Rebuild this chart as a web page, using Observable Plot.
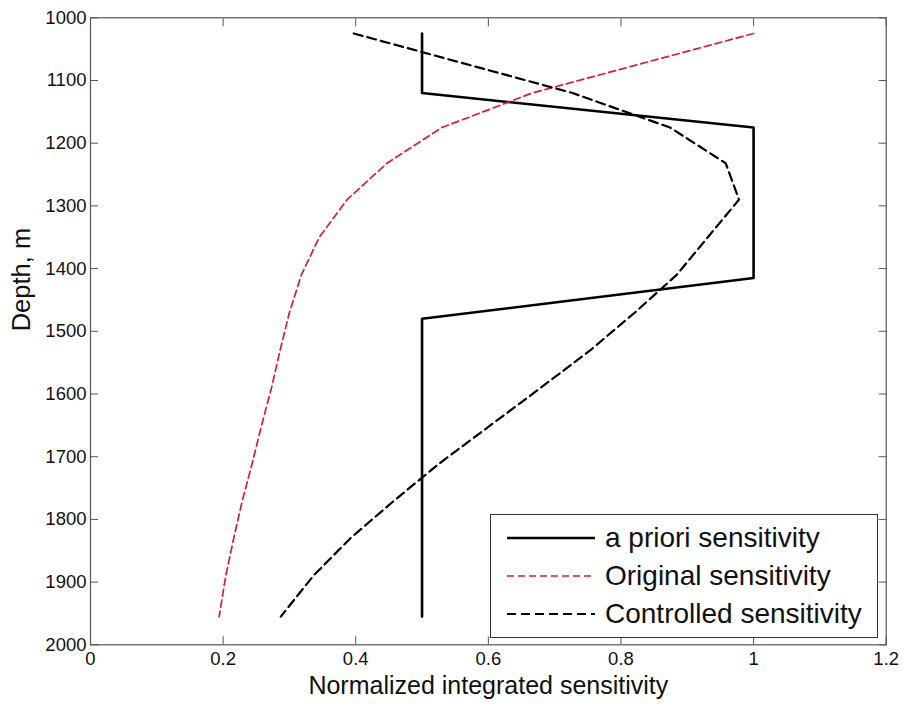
<!DOCTYPE html>
<html>
<head>
<meta charset="utf-8">
<script src="https://cdn.jsdelivr.net/npm/d3@7"></script>
<script src="https://cdn.jsdelivr.net/npm/@observablehq/plot@0.6"></script>
<style>
  body { margin: 0; background: #fff; font-family: "Liberation Sans", Arial, sans-serif; }
  #wrap { position: relative; width: 904px; height: 704px; }
  .legend {
    position: absolute; left: 490px; top: 514px; width: 386px; height: 118px;
    padding-top: 4px; border: 1.5px solid #333; background: #fff;
  }
  .row { display: flex; align-items: center; height: 38px; }
  .row svg { margin-left: 16px; margin-right: 10px; flex: none; }
  .row span { font-size: 28px; color: #111; white-space: nowrap; }
</style>
</head>
<body>
<div id="wrap"></div>
<script>
// A priori sensitivity: stepped profile (depth in m, normalized value)
const aprioriDepth = [1025, 1120, 1175, 1415, 1480, 1955];
const aprioriValue = [0.5, 0.5, 1.0, 1.0, 0.5, 0.5];

// Original and controlled sensitivity profiles, sampled at the same depths
const profileDepth = [1025, 1120, 1175, 1232, 1290, 1350, 1410, 1470, 1530, 1590, 1650, 1710, 1770, 1830, 1890, 1955];
const originalValue = [1.0, 0.666, 0.53, 0.447, 0.387, 0.345, 0.318, 0.300, 0.286, 0.273, 0.258, 0.244, 0.229, 0.216, 0.204, 0.194];
const controlledValue = [0.397, 0.727, 0.874, 0.958, 0.978, 0.931, 0.884, 0.821, 0.754, 0.679, 0.603, 0.527, 0.458, 0.392, 0.336, 0.287];

// Axis ticks and their labels
const xTicks = [0, 0.2, 0.4, 0.6, 0.8, 1, 1.2];
const xTickLabels = ["0", "0.2", "0.4", "0.6", "0.8", "1", "1.2"];
const yTicks = [1000, 1100, 1200, 1300, 1400, 1500, 1600, 1700, 1800, 1900, 2000];
const yTickLabels = ["1000", "1100", "1200", "1300", "1400", "1500", "1600", "1700", "1800", "1900", "2000"];

const xLabel = "Normalized integrated sensitivity";
const yLabel = "Depth, m";

// Series names and styles (also used by the legend)
const seriesNames = ["a priori sensitivity", "Original sensitivity", "Controlled sensitivity"];
const seriesStyles = [
  { stroke: "#000000", strokeWidth: 2.6, dash: null },
  { stroke: "#d81e36", strokeWidth: 1.7, dash: "7,4" },
  { stroke: "#000000", strokeWidth: 2.2, dash: "9,5" }
];

const apriori = aprioriDepth.map((d, i) => ({ depth: d, value: aprioriValue[i] }));
const original = profileDepth.map((d, i) => ({ depth: d, value: originalValue[i] }));
const controlled = profileDepth.map((d, i) => ({ depth: d, value: controlledValue[i] }));

const axisStroke = "#555";
const fmtX = d => xTickLabels[xTicks.indexOf(d)];
const fmtY = d => yTickLabels[yTicks.indexOf(d)];

const chart = Plot.plot({
  width: 904,
  height: 704,
  marginLeft: 90,
  marginRight: 18.3,
  marginTop: 17.3,
  marginBottom: 59.7,
  style: {
    fontFamily: "Liberation Sans, Arial, sans-serif",
    fontSize: "18.5px",
    color: "#111",
    background: "white"
  },
  x: { domain: [0, 1.2] },
  y: { domain: [1000, 2000], reverse: true },
  marks: [
    Plot.frame({ stroke: axisStroke, strokeWidth: 1.2 }),
    // inward-pointing ticks on all four sides
    Plot.axisX({ ticks: xTicks, anchor: "bottom", tickSize: -8, tickPadding: 15, tickFormat: fmtX, label: null, stroke: axisStroke }),
    Plot.axisX({ ticks: xTicks, anchor: "top", tickSize: -8, tickFormat: () => "", label: null, stroke: axisStroke }),
    Plot.axisY({ ticks: yTicks, anchor: "left", tickSize: -8, tickPadding: 12, tickFormat: fmtY, label: null, stroke: axisStroke }),
    Plot.axisY({ ticks: yTicks, anchor: "right", tickSize: -8, tickFormat: () => "", label: null, stroke: axisStroke }),
    // profiles
    Plot.line(apriori, { x: "value", y: "depth", stroke: seriesStyles[0].stroke, strokeWidth: seriesStyles[0].strokeWidth }),
    Plot.line(original, { x: "value", y: "depth", stroke: seriesStyles[1].stroke, strokeWidth: seriesStyles[1].strokeWidth, strokeDasharray: seriesStyles[1].dash }),
    Plot.line(controlled, { x: "value", y: "depth", stroke: seriesStyles[2].stroke, strokeWidth: seriesStyles[2].strokeWidth, strokeDasharray: seriesStyles[2].dash }),
    // axis titles
    Plot.text([xLabel], { text: d => d, frameAnchor: "bottom", dy: 41, lineAnchor: "middle", fontSize: 25, fill: "#111" }),
    Plot.text([yLabel], { text: d => d, frameAnchor: "left", dx: -68.5, rotate: -90, lineAnchor: "middle", fontSize: 25.5, fill: "#111" })
  ]
});

const wrap = document.getElementById("wrap");
wrap.appendChild(chart);

// Legend box drawn over the lower-right of the plot area
const legend = document.createElement("div");
legend.className = "legend";
seriesNames.forEach((name, i) => {
  const s = seriesStyles[i];
  const row = document.createElement("div");
  row.className = "row";
  const ns = "http://www.w3.org/2000/svg";
  const svg = document.createElementNS(ns, "svg");
  svg.setAttribute("width", "88");
  svg.setAttribute("height", "10");
  const line = document.createElementNS(ns, "line");
  line.setAttribute("x1", "0");
  line.setAttribute("x2", "88");
  line.setAttribute("y1", "5");
  line.setAttribute("y2", "5");
  line.setAttribute("stroke", s.stroke);
  line.setAttribute("stroke-width", s.strokeWidth);
  if (s.dash) line.setAttribute("stroke-dasharray", s.dash);
  svg.appendChild(line);
  const label = document.createElement("span");
  label.textContent = name;
  row.appendChild(svg);
  row.appendChild(label);
  legend.appendChild(row);
});
wrap.appendChild(legend);
</script>
</body>
</html>
